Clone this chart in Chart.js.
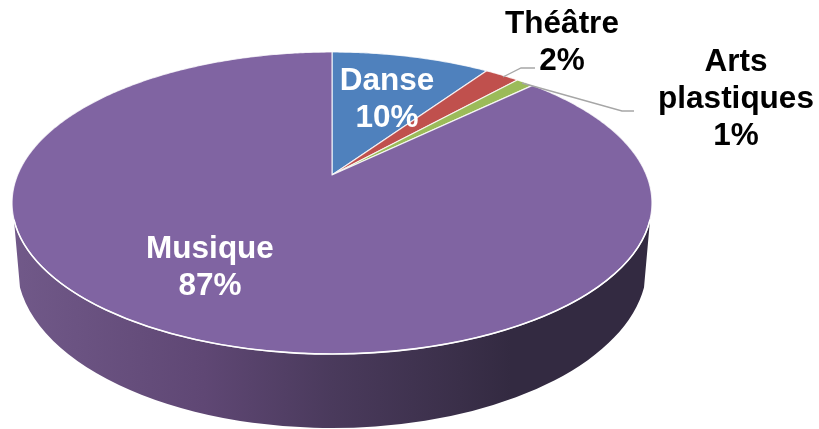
<!DOCTYPE html>
<html lang="fr">
<head>
<meta charset="utf-8">
<title>Répartition</title>
<script src="https://cdn.jsdelivr.net/npm/chart.js@4"></script>
<style>
    html, body { margin: 0; padding: 0; background: #fff; }
    canvas { display: block; }
</style>
</head>
<body>
<canvas id="pieChart" width="819" height="429"></canvas>
<script>
// Data
const categories = ['Danse', 'Théâtre', 'Arts plastiques', 'Musique'];
const shares = [9.6, 2.1, 1.1, 87.2];
const shareLabels = ['10%', '2%', '1%', '87%'];
const sliceColors = ['#4f81bd', '#c0504d', '#9bbb59', '#8064a2'];

// Tilted disc: apex of the slices and perspective of the top face
const apexX = 332, apexY = 175;
const spreadX = 314.4, spreadY = 145.8, tilt = 0.1854;
// Top rim and bottom rim as plain ellipses, for the side wall
const topRim = { x: 332, y: 203, rx: 320, ry: 151, from: 0.11 };
const bottomRim = { x: 332, y: 265, rx: 315, ry: 163, from: 0.138 };

// Text blocks: one line per entry, centred on x
const labelBlocks = [
    { lines: ['Danse', shareLabels[0]], x: 387, y: [90, 127], color: '#fff' },
    { lines: ['Théâtre', shareLabels[1]], x: 562, y: [33, 70], color: '#000' },
    { lines: ['Arts', 'plastiques', shareLabels[2]], x: 736, y: [71, 108, 145], color: '#000' },
    { lines: ['Musique', shareLabels[3]], x: 210, y: [258, 295], color: '#fff' }
];
const leaderLines = [
    [[503, 77], [521, 68], [535, 68]],
    [[522, 83], [622, 111], [634, 111]]
];

function project(angle) {
    // chart.js angle (-PI/2 is the top) onto the tilted disc
    const a = angle + Math.PI / 2;
    const w = 1 + tilt * Math.cos(a);
    return {
        x: apexX + spreadX * Math.sin(a) / w,
        y: apexY - spreadY * Math.cos(a) / w
    };
}

function drawSide(ctx) {
    ctx.beginPath();
    ctx.ellipse(topRim.x, topRim.y, topRim.rx, topRim.ry, 0, topRim.from, Math.PI - topRim.from, false);
    ctx.ellipse(bottomRim.x, bottomRim.y, bottomRim.rx, bottomRim.ry, 0, Math.PI - bottomRim.from, bottomRim.from, true);
    ctx.closePath();

    const grad = ctx.createLinearGradient(12, 0, 652, 0);
    grad.addColorStop(0, '#715989');
    grad.addColorStop(0.3, '#5f4774');
    grad.addColorStop(0.5, '#4a3a5c');
    grad.addColorStop(0.7, '#3a2f49');
    grad.addColorStop(0.78, '#332a41');
    grad.addColorStop(1, '#332a41');
    ctx.fillStyle = grad;
    ctx.fill();
}

function drawSlice(ctx, arc, color) {
    ctx.beginPath();
    ctx.moveTo(apexX, apexY);
    const steps = Math.ceil((arc.endAngle - arc.startAngle) / 0.01);
    for (let i = 0; i <= steps; i++) {
        const p = project(arc.startAngle + (arc.endAngle - arc.startAngle) * i / steps);
        ctx.lineTo(p.x, p.y);
    }
    ctx.closePath();
    ctx.fillStyle = color;
    ctx.fill();
    ctx.strokeStyle = 'rgba(255,255,255,0.8)';
    ctx.lineWidth = 1.2;
    ctx.lineJoin = 'round';
    ctx.stroke();
}

const tiltedPie = {
    id: 'tiltedPie',
    beforeDatasetsDraw(chart) {
        const ctx = chart.ctx;
        ctx.save();
        drawSide(ctx);
        chart.getDatasetMeta(0).data.forEach((arc, i) => {
            drawSlice(ctx, arc, sliceColors[i]);
        });
        // White line on the front edge
        ctx.beginPath();
        ctx.ellipse(topRim.x, topRim.y, topRim.rx, topRim.ry, 0, topRim.from, Math.PI - topRim.from, false);
        ctx.strokeStyle = '#fff';
        ctx.lineWidth = 1.6;
        ctx.stroke();
        ctx.restore();
        return false; // the native flat arcs are replaced by the ones above
    },
    afterDraw(chart) {
        const ctx = chart.ctx;
        ctx.save();
        ctx.strokeStyle = '#a6a6a6';
        ctx.lineWidth = 1.3;
        leaderLines.forEach(pts => {
            ctx.beginPath();
            pts.forEach((p, i) => i ? ctx.lineTo(p[0], p[1]) : ctx.moveTo(p[0], p[1]));
            ctx.stroke();
        });
        ctx.font = 'bold 31.5px "Liberation Sans", Arial, sans-serif';
        ctx.textAlign = 'center';
        ctx.textBaseline = 'alphabetic';
        labelBlocks.forEach(block => {
            ctx.fillStyle = block.color;
            block.lines.forEach((line, i) => ctx.fillText(line, block.x, block.y[i]));
        });
        ctx.restore();
    }
};

new Chart(document.getElementById('pieChart').getContext('2d'), {
    type: 'pie',
    data: {
        labels: categories,
        datasets: [{
            data: shares,
            backgroundColor: sliceColors,
            borderWidth: 0
        }]
    },
    options: {
        responsive: false,
        animation: false,
        plugins: {
            legend: { display: false },
            tooltip: { enabled: false }
        }
    },
    plugins: [tiltedPie]
});
</script>
</body>
</html>
